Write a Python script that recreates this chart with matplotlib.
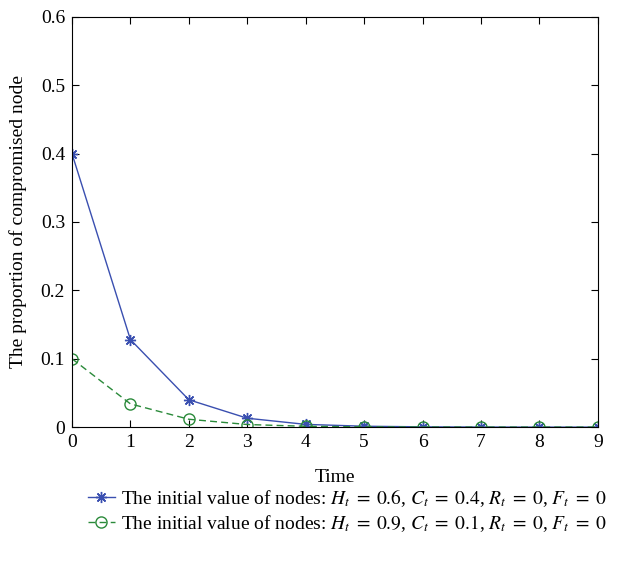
import numpy as np
import matplotlib.pyplot as plt

plt.rcParams['font.family'] = 'Liberation Serif'
plt.rcParams['mathtext.fontset'] = 'stix'

t = np.arange(10)
case1 = [0.4, 0.128, 0.04, 0.013, 0.004, 0.0013, 0.0004, 0.0001, 0.0, 0.0]
case2 = [0.1, 0.034, 0.0115, 0.0038, 0.0012, 0.0004, 0.0001, 0.0, 0.0, 0.0]
yticks = [0, 0.1, 0.2, 0.3, 0.4, 0.5, 0.6]
ylabels = ['0', '0.1', '0.2', '0.3', '0.4', '0.5', '0.6']

label1 = r'The initial value of nodes: $H_t\;=\;0.6$, $C_t\;=\;0.4$, $R_t\;=\;0$, $F_t\;=\;0$'
label2 = r'The initial value of nodes: $H_t\;=\;0.9$, $C_t\;=\;0.1$, $R_t\;=\;0$, $F_t\;=\;0$'

fig = plt.figure(figsize=(6.26, 5.62), dpi=100)
ax = fig.add_axes([0.115, 0.240, 0.840, 0.730])

# MATLAB style asterisk: 8-point star made of lines
l1, = ax.plot(t, case1, '-', color='#3a4fb0', lw=1.0, marker=(8, 2, 0), ms=8,
              mfc='none', mec='#3a4fb0', mew=1.0)
l2, = ax.plot(t, case2, '--', color='#2a8a3a', lw=1.0, marker='o', ms=8,
              mfc='none', mec='#2a8a3a', mew=1.0, dashes=(5, 3))

ax.set_xlim(0, 9)
ax.set_ylim(0, 0.6)
ax.set_xticks(t)
ax.set_yticks(yticks)
ax.set_yticklabels(ylabels)
ax.tick_params(direction='in', top=True, right=True, labelsize=14, length=5, pad=5)
ax.set_xlabel('Time', fontsize=14, labelpad=13)
ax.set_ylabel('The proportion of compromised node', fontsize=14, labelpad=10)

fig.legend([l1, l2], [label1, label2], loc='upper left',
           bbox_to_anchor=(0.14, 0.133), frameon=False, fontsize=14,
           handlelength=1.4, handletextpad=0.3, labelspacing=0.2,
           borderpad=0, borderaxespad=0)

fig.savefig('out.png', dpi=100)
